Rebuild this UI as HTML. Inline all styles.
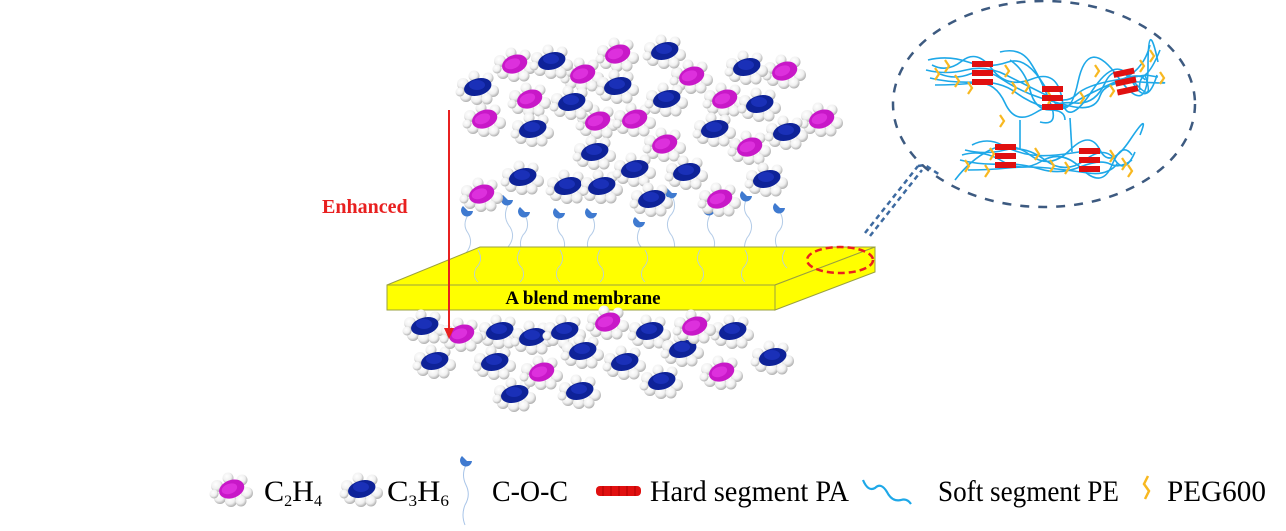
<!DOCTYPE html>
<html><head><meta charset="utf-8"><style>
html,body{margin:0;padding:0;background:#fff;}
svg{display:block;}
text{font-family:"Liberation Serif",serif;}
</style></head><body>
<svg width="1286" height="531" viewBox="0 0 1286 531" xmlns="http://www.w3.org/2000/svg">
<defs>
<radialGradient id="hg" cx="0.4" cy="0.35" r="0.65"><stop offset="0" stop-color="#ffffff"/><stop offset="0.6" stop-color="#f0f0f0"/><stop offset="1" stop-color="#b0b0b0"/></radialGradient>
<g id="hs">
<circle cx="-15" cy="-4" r="6" fill="url(#hg)"/><circle cx="-12" cy="8" r="6" fill="url(#hg)"/>
<circle cx="15" cy="3" r="6" fill="url(#hg)"/><circle cx="10" cy="-10" r="5.5" fill="url(#hg)"/>
<circle cx="-1" cy="11" r="6" fill="url(#hg)"/><circle cx="-4" cy="-12" r="5.5" fill="url(#hg)"/>
<circle cx="9" cy="11" r="5.5" fill="url(#hg)"/><circle cx="-18" cy="4" r="4.5" fill="url(#hg)"/>
</g>
<g id="m"><use href="#hs"/><ellipse cx="0" cy="-1" rx="13" ry="9" transform="rotate(-20)" fill="#c818c8"/><ellipse cx="-2" cy="-2" rx="8" ry="5" transform="rotate(-20)" fill="#dd30dd"/></g>
<g id="b"><use href="#hs"/><ellipse cx="0" cy="-1" rx="14" ry="8.5" transform="rotate(-15)" fill="#0e2298"/><ellipse cx="-1" cy="-3" rx="8" ry="5" fill="#1a30b8"/></g>
<g id="cb"><path d="M-5,-5 A6,6 0 1,0 5,0 L0,0 Z" fill="#3f7ad0"/></g>
<g id="rb"><rect x="0" y="0" width="21" height="6" fill="#e01010"/><rect x="0" y="9" width="21" height="6" fill="#e01010"/><rect x="0" y="18" width="21" height="6" fill="#e01010"/></g>
</defs>

<g>
<use href="#m" x="515" y="65"/><use href="#m" x="618" y="55"/><use href="#m" x="583" y="75"/><use href="#m" x="692" y="77"/>
<use href="#m" x="785" y="72"/><use href="#m" x="530" y="100"/><use href="#m" x="485" y="120"/><use href="#m" x="598" y="122"/>
<use href="#m" x="635" y="120"/><use href="#m" x="725" y="100"/><use href="#m" x="822" y="120"/><use href="#m" x="665" y="145"/>
<use href="#m" x="750" y="148"/>
<use href="#b" x="552" y="62"/><use href="#b" x="665" y="52"/><use href="#b" x="478" y="88"/><use href="#b" x="618" y="87"/>
<use href="#b" x="747" y="68"/><use href="#b" x="572" y="103"/><use href="#b" x="667" y="100"/><use href="#b" x="760" y="105"/>
<use href="#b" x="533" y="130"/><use href="#b" x="715" y="130"/><use href="#b" x="787" y="133"/><use href="#b" x="595" y="153"/>
</g>
<g fill="none" stroke="#b4cce8" stroke-width="1">
<path d="M468,215 q-6,10 0,18 q6,10 -2,20 q-4,10 2,22 q4,10 -2,20"/>
<path d="M508,205 q-6,12 2,22 q6,10 -2,20 q-6,12 2,22 q4,10 -2,18"/>
<path d="M525,215 q6,12 -2,20 q-6,10 2,20 q6,12 -2,22"/>
<path d="M560,216 q-6,12 2,20 q6,10 -2,20 q-6,12 2,22 q4,10 -2,18"/>
<path d="M592,216 q6,12 -2,20 q-6,10 2,20 q6,12 -2,22"/>
<path d="M640,228 q-6,12 2,20 q6,10 -2,20 q-6,12 2,22"/>
<path d="M672,196 q6,12 -2,20 q-6,10 2,20 q6,12 -2,22 q-4,10 2,20"/>
<path d="M710,215 q-6,12 2,20 q6,10 -2,20 q-6,12 2,22"/>
<path d="M747,198 q-6,12 2,20 q6,10 -2,20 q-6,12 2,22 q4,10 -2,18"/>
<path d="M780,212 q6,12 -2,20 q-6,10 2,20 q6,12 -2,22 q-4,10 2,20"/>
</g>
<g>
<use href="#cb" x="468" y="211"/><use href="#cb" x="508" y="200"/><use href="#cb" x="525" y="212"/><use href="#cb" x="560" y="213"/>
<use href="#cb" x="592" y="213"/><use href="#cb" x="640" y="222"/><use href="#cb" x="672" y="193"/><use href="#cb" x="710" y="210"/>
<use href="#cb" x="747" y="196"/><use href="#cb" x="780" y="208"/>
</g>
<g>
<use href="#m" x="482" y="195"/><use href="#m" x="720" y="200"/>
<use href="#b" x="523" y="178"/><use href="#b" x="568" y="187"/><use href="#b" x="602" y="187"/><use href="#b" x="635" y="170"/>
<use href="#b" x="687" y="173"/><use href="#b" x="652" y="200"/><use href="#b" x="767" y="180"/>
</g>

<polygon points="480,247 875,247 775,285 387,285" fill="#ffff00" stroke="#9aa040" stroke-width="1"/>
<polygon points="775,285 875,247 875,272 775,310" fill="#ffff00" stroke="#9aa040" stroke-width="1"/>
<rect x="387" y="285" width="388" height="25" fill="#ffff00" stroke="#9aa040" stroke-width="1"/>
<g fill="none" stroke="#b4cce8" stroke-width="0.8">
<path d="M478,250 q6,10 -2,18 q-4,8 2,14"/><path d="M520,250 q-6,10 2,18 q4,8 -2,14"/>
<path d="M560,250 q6,10 -2,18 q-4,8 2,14"/><path d="M600,250 q-6,10 2,18 q4,8 -2,14"/>
<path d="M645,250 q6,10 -2,18 q-4,8 2,14"/><path d="M700,250 q-6,10 2,18 q4,8 -2,14"/>
<path d="M745,250 q6,10 -2,18 q-4,8 2,14"/><path d="M785,250 q-6,10 2,18"/>
</g>
<text x="583" y="304" text-anchor="middle" font-size="19" font-weight="bold" fill="#000">A blend membrane</text>
<ellipse cx="840" cy="260" rx="33" ry="13" fill="none" stroke="#e82020" stroke-width="2.5" stroke-dasharray="7,4"/>

<g>
<use href="#b" x="425" y="327"/><use href="#b" x="500" y="332"/><use href="#b" x="533" y="338"/><use href="#b" x="565" y="332"/>
<use href="#b" x="650" y="332"/><use href="#b" x="733" y="332"/><use href="#b" x="435" y="362"/><use href="#b" x="495" y="363"/>
<use href="#b" x="583" y="352"/><use href="#b" x="625" y="363"/><use href="#b" x="683" y="350"/><use href="#b" x="773" y="358"/>
<use href="#b" x="515" y="395"/><use href="#b" x="580" y="392"/><use href="#b" x="662" y="382"/>
<use href="#m" x="462" y="335"/><use href="#m" x="608" y="323"/><use href="#m" x="695" y="327"/><use href="#m" x="542" y="373"/><use href="#m" x="722" y="373"/>
</g>

<line x1="449" y1="110" x2="449" y2="330" stroke="#e82020" stroke-width="2"/>
<polygon points="444,328 454,328 449,339" fill="#e82020"/>
<text x="322" y="213" font-size="20" font-weight="bold" fill="#e82020">Enhanced</text>

<g stroke="#3d6aa0" stroke-width="2.5" stroke-dasharray="5,4" fill="none">
<line x1="865" y1="233" x2="918" y2="166"/><line x1="870" y1="236" x2="922" y2="170"/>
<path d="M918,166 L925,165 L940,175"/>
</g>
<ellipse cx="1044" cy="104" rx="151" ry="103" fill="none" stroke="#3d5a80" stroke-width="2.5" stroke-dasharray="9,9"/>

<g fill="none" stroke="#1ea8e8" stroke-width="1.6">
<path d="M928,60 q20,-5 40,2 t40,0 t40,30 t30,-10 t40,-5 t30,-10 t10,-5"/>
<path d="M926,70 q20,5 40,0 t40,5 t40,20 t30,0 t40,-15 t30,-5 t12,2"/>
<path d="M930,78 q20,5 45,4 t40,10 t30,15 t30,-5 t40,-20 t30,-2"/>
<path d="M935,85 q20,0 40,-2 t30,20 t30,10 t40,-10 t30,-20 t30,0 t10,-8"/>
<path d="M932,65 q15,8 30,-4 t30,8 t40,10 t30,20 t30,-8 t40,-10 t25,-6"/>
<path d="M940,74 q15,6 30,0 t30,4 t30,16 t40,12 t30,-10 t40,-14 t20,0"/>
<path d="M1000,52 q20,-5 30,10 t20,40 t-10,20"/>
<path d="M1010,60 q15,10 20,30 t20,20 t15,10"/>
<path d="M1150,45 q-5,20 -20,30 t-20,10"/><path d="M1160,50 q-8,20 -15,25 t-5,15"/>
<path d="M1020,120 L1020,150"/><path d="M1070,118 L1072,152"/>
<path d="M955,180 q15,-20 35,-30 t40,5 t40,-5 t30,0 t30,-10 t10,-5"/>
<path d="M965,150 q20,5 40,0 t40,10 t40,0 t30,0 t20,-8"/>
<path d="M960,160 q20,5 40,4 t40,5 t40,-2 t30,-3 t22,-4"/>
<path d="M968,170 q20,0 40,-2 t40,0 t40,5 t30,-10"/>
<path d="M962,155 q20,-6 40,6 t40,0 t40,8 t30,-4 t20,-10"/>
<path d="M972,145 q15,-8 30,0 t30,10 t40,-2 t30,0"/>
</g>
<g fill="none" stroke="#f8b820" stroke-width="2.2">
<path d="M945,60 l4,6 l-4,6"/><path d="M955,75 l4,6 l-4,6"/><path d="M1005,65 l4,6 l-4,6"/><path d="M1025,80 l4,6 l-4,6"/>
<path d="M1048,92 l4,6 l-4,6"/><path d="M1080,92 l4,6 l-4,6"/><path d="M1110,85 l4,6 l-4,6"/><path d="M1140,60 l4,6 l-4,6"/>
<path d="M1160,72 l4,6 l-4,6"/><path d="M990,148 l4,6 l-4,6"/><path d="M1035,148 l4,6 l-4,6"/><path d="M1050,160 l4,6 l-4,6"/>
<path d="M1110,150 l4,6 l-4,6"/><path d="M1122,158 l4,6 l-4,6"/><path d="M985,165 l4,6 l-4,6"/><path d="M1000,115 l4,6 l-4,6"/>
<path d="M935,68 l4,6 l-4,6"/><path d="M968,82 l4,6 l-4,6"/><path d="M1012,82 l4,6 l-4,6"/><path d="M1150,50 l4,6 l-4,6"/>
<path d="M1095,65 l4,6 l-4,6"/><path d="M1128,165 l4,6 l-4,6"/><path d="M965,160 l4,6 l-4,6"/><path d="M1065,162 l4,6 l-4,6"/>
</g>
<use href="#rb" x="972" y="61"/><use href="#rb" x="1042" y="86"/>
<g transform="translate(1113,72) rotate(-12)"><use href="#rb"/></g>
<use href="#rb" x="995" y="144"/><use href="#rb" x="1079" y="148"/>

<!-- legend -->
<use href="#m" x="232" y="490"/>
<text x="264" y="501" font-size="30" textLength="58" lengthAdjust="spacingAndGlyphs" fill="#000">C<tspan font-size="16" dy="5">2</tspan><tspan dy="-5">H</tspan><tspan font-size="16" dy="5">4</tspan></text>
<use href="#b" x="362" y="490"/>
<text x="387" y="501" font-size="30" textLength="62" lengthAdjust="spacingAndGlyphs" fill="#000">C<tspan font-size="16" dy="5">3</tspan><tspan dy="-5">H</tspan><tspan font-size="16" dy="5">6</tspan></text>
<path d="M466,465 q-5,10 0,20 q5,10 -1,20 q-4,10 0,20" fill="none" stroke="#a8c4e8" stroke-width="1"/>
<use href="#cb" x="467" y="461"/>
<text x="492" y="501" font-size="30" textLength="76" lengthAdjust="spacingAndGlyphs" fill="#000">C-O-C</text>
<rect x="596" y="486" width="45" height="10" rx="4" fill="#e01010"/>
<g stroke="#b00000" stroke-width="1"><line x1="603" y1="486" x2="603" y2="496"/><line x1="611" y1="486" x2="611" y2="496"/><line x1="619" y1="486" x2="619" y2="496"/><line x1="627" y1="486" x2="627" y2="496"/><line x1="635" y1="486" x2="635" y2="496"/></g>
<text x="650" y="501" font-size="30" textLength="199" lengthAdjust="spacingAndGlyphs" fill="#000">Hard segment PA</text>
<path d="M863,480 q5,12 12,8 q6,-6 12,4 q5,10 14,8 q6,-2 10,4" fill="none" stroke="#1ea8e8" stroke-width="2.2"/>
<text x="938" y="501" font-size="30" textLength="181" lengthAdjust="spacingAndGlyphs" fill="#000">Soft segment PE</text>
<path d="M1148,476 l-4,8 l5,7 l-4,8" fill="none" stroke="#f8b820" stroke-width="2.5"/>
<text x="1167" y="501" font-size="30" textLength="99" lengthAdjust="spacingAndGlyphs" fill="#000">PEG600</text>
</svg>
</body></html>
